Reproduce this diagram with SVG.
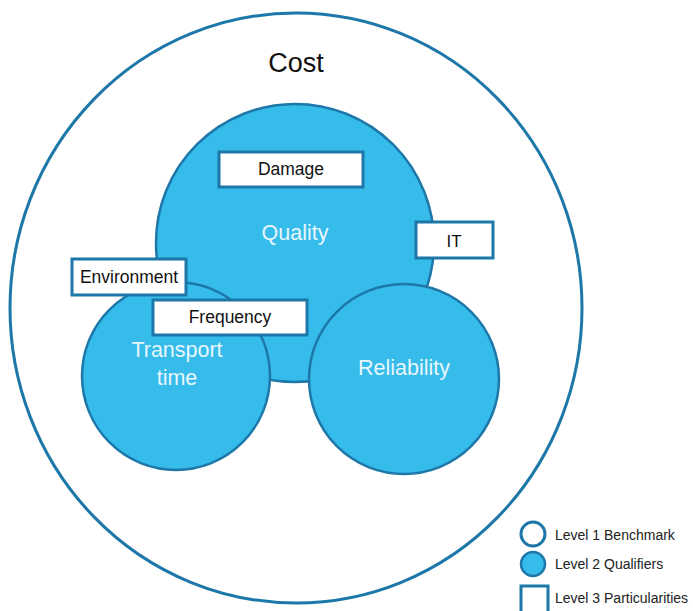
<svg xmlns="http://www.w3.org/2000/svg" width="693" height="611" viewBox="0 0 693 611">
<style>
.outline{fill:#ffffff;stroke:#1d77a8;stroke-width:3}
.qual{fill:#36bcea;stroke:#1d77a8;stroke-width:2.5}
.box{fill:#ffffff;stroke:#1d77a8;stroke-width:3}
.lbl{font-family:"Liberation Sans",Arial,sans-serif;fill:#111111;text-anchor:middle}
.wlbl{font-family:"Liberation Sans",Arial,sans-serif;fill:#e6f6fd;text-anchor:middle;font-size:21.5px}
.leg{font-family:"Liberation Sans",Arial,sans-serif;fill:#222222;font-size:14px}
</style>
<rect width="693" height="611" fill="#ffffff"/>
<g id="cost">
<ellipse class="outline" cx="296" cy="308" rx="286" ry="295"/>
<text class="lbl" x="296" y="72" font-size="27">Cost</text>
</g>
<g id="quality">
<circle class="qual" cx="295" cy="243" r="139"/>
<text class="wlbl" x="295" y="240">Quality</text>
</g>
<g id="transport-time">
<circle class="qual" cx="176" cy="376" r="94"/>
<text class="wlbl" x="177" y="357">Transport</text>
<text class="wlbl" x="177" y="385">time</text>
</g>
<g id="reliability">
<circle class="qual" cx="404" cy="379" r="95"/>
<text class="wlbl" x="404" y="375">Reliability</text>
</g>
<g id="damage">
<rect class="box" x="219" y="152" width="144" height="35"/>
<text class="lbl" x="291" y="175" font-size="17.5">Damage</text>
</g>
<g id="it">
<rect class="box" x="416" y="222" width="77" height="36"/>
<text class="lbl" x="454" y="247" font-size="17">IT</text>
</g>
<g id="environment">
<rect class="box" x="72" y="259" width="114" height="36"/>
<text class="lbl" x="129" y="283" font-size="17.5">Environment</text>
</g>
<g id="frequency">
<rect class="box" x="153" y="300" width="154" height="35"/>
<text class="lbl" x="230" y="323" font-size="17.5">Frequency</text>
</g>
<g id="connectors"></g>
<g id="legend">
<circle class="outline" cx="533" cy="534" r="12"/>
<text class="leg" x="555" y="540">Level 1 Benchmark</text>
<circle class="qual" cx="533" cy="564" r="12" stroke-width="3"/>
<text class="leg" x="555" y="569">Level 2 Qualifiers</text>
<rect class="box" x="521" y="586" width="27" height="30"/>
<text class="leg" x="555" y="603">Level 3 Particularities</text>
</g>
</svg>
